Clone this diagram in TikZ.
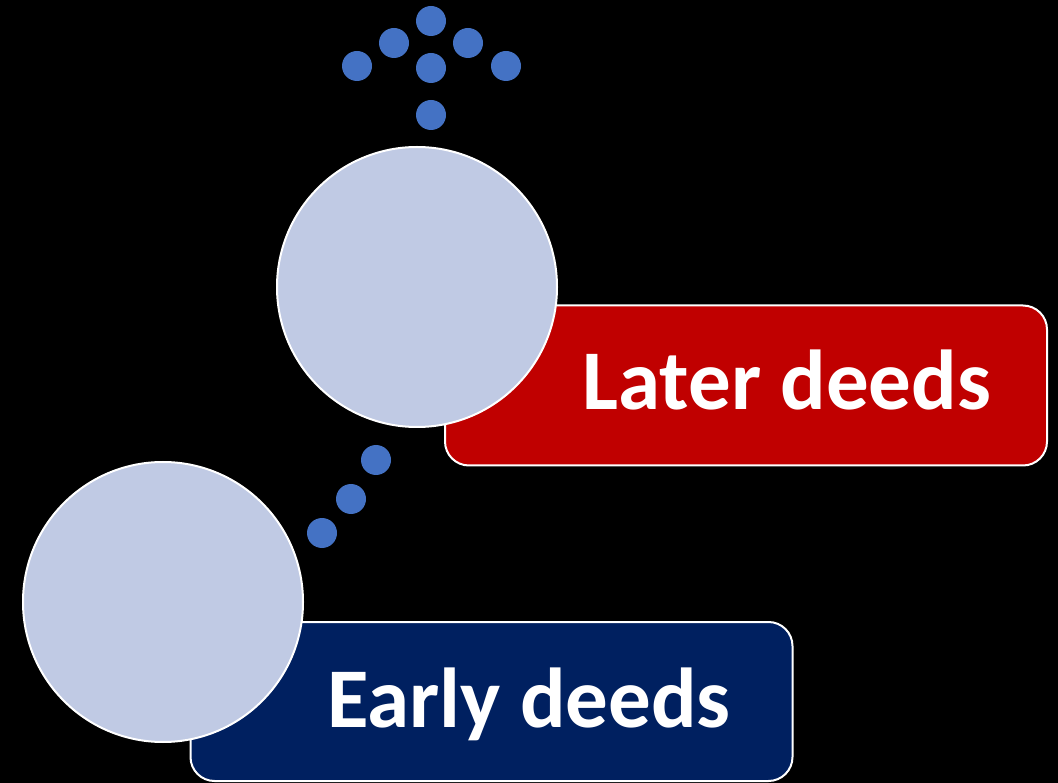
\documentclass[tikz,border=0pt]{standalone}
\usepackage{fontspec}
\setmainfont{Carlito}
\definecolor{circfill}{RGB}{192,202,228}
\definecolor{dotblue}{RGB}{68,114,196}
\definecolor{laterred}{RGB}{192,0,0}
\definecolor{earlynavy}{RGB}{0,32,96}
\begin{document}
\begin{tikzpicture}[x=1pt,y=-1pt,
  bigcirc/.style={circle,draw=white,line width=2pt,fill=circfill,minimum size=280pt,inner sep=0pt},
  labelbox/.style={draw=white,line width=2pt,rounded corners=24pt,inner sep=0pt,minimum width=602pt,minimum height=160pt},
  dotnode/.style={circle,fill=dotblue,minimum size=30pt,inner sep=0pt},
  deedtext/.style={text=white,font=\fontsize{85}{90}\selectfont\bfseries,inner sep=0pt,anchor=base}]
\fill[black] (0,0) rectangle (1058,783);
\useasboundingbox (0,0) rectangle (1058,783);
% boxes
\node[labelbox,fill=laterred] (laterbox) at (746,385.5) {};
\node[labelbox,fill=earlynavy,minimum height=159pt] (earlybox) at (491.5,701.5) {};
% circles
\node[bigcirc] (topcirc) at (417,287) {};
\node[bigcirc] (botcirc) at (163,602) {};
% texts
\node[deedtext] (latertxt) at (787,410) {Later deeds};
\node[deedtext] (earlytxt) at (529,727) {Early deeds};
% arrow of dots
\node[dotnode] (d1) at (431,21) {};
\node[dotnode] (d2) at (394,43) {};
\node[dotnode] (d3) at (468,43) {};
\node[dotnode] (d4) at (357,66) {};
\node[dotnode] (d5) at (431,68) {};
\node[dotnode] (d6) at (506,66) {};
\node[dotnode] (d7) at (431,115) {};
% dotted link
\node[dotnode] (m1) at (376,460) {};
\node[dotnode] (m2) at (351,499) {};
\node[dotnode] (m3) at (322,533) {};
\end{tikzpicture}
\end{document}
